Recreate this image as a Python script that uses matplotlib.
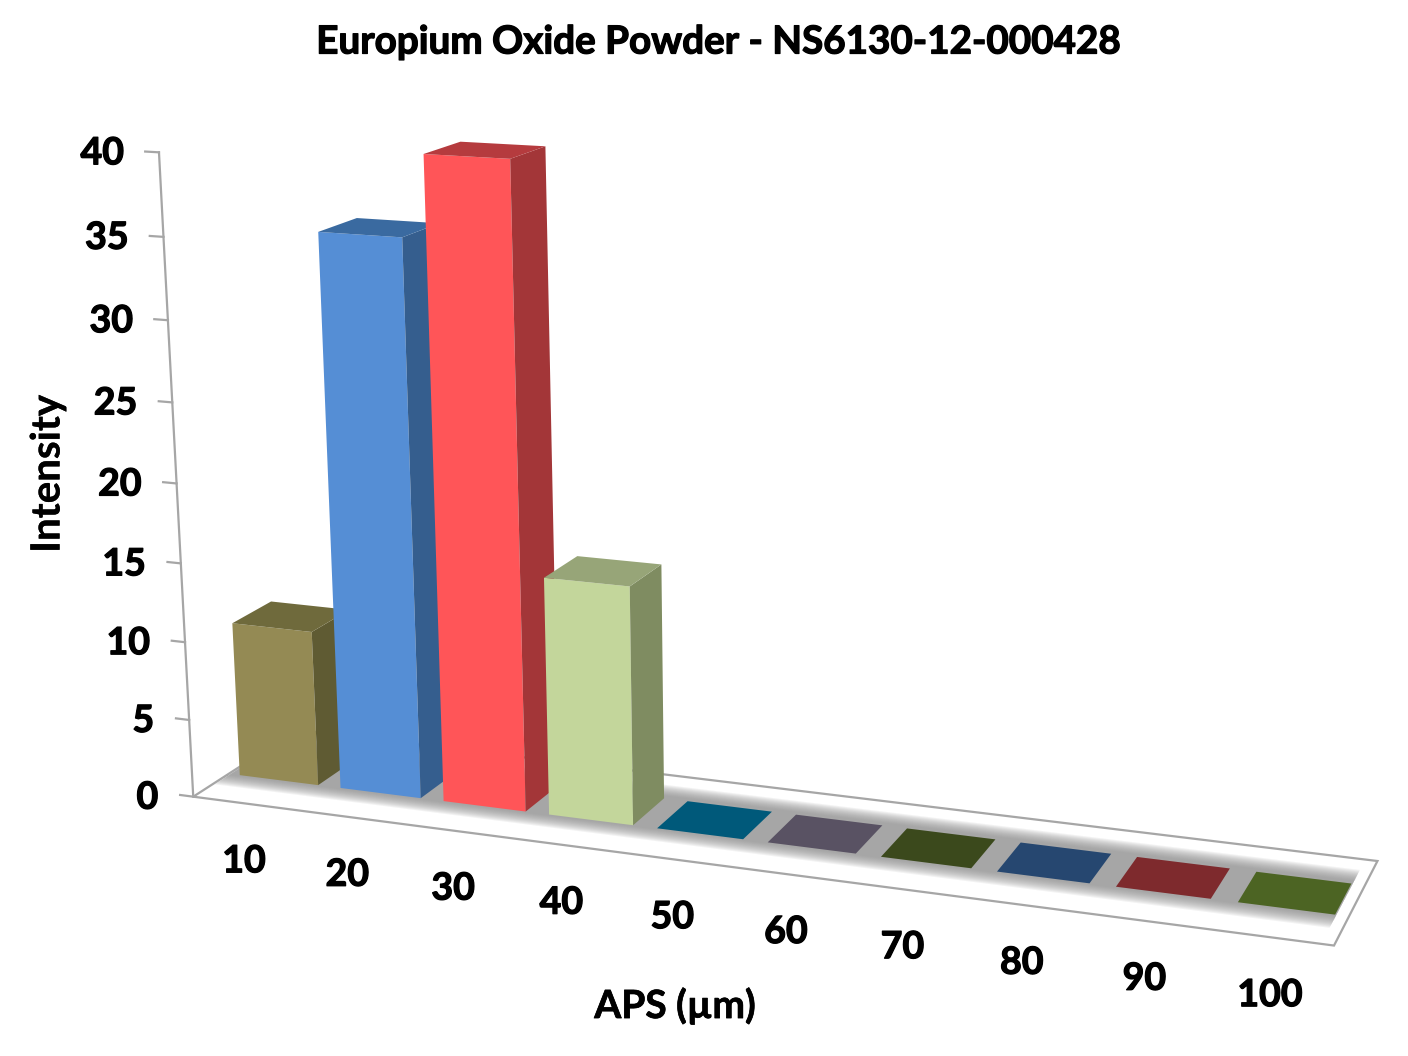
import numpy as np
import matplotlib
matplotlib.use("Agg")
import matplotlib.pyplot as plt
import matplotlib.patheffects as pe

plt.rcParams['font.family'] = ['Lato', 'DejaVu Sans']

categories = ['10', '20', '30', '40', '50', '60', '70', '80', '90', '100']
values = [10, 35, 40, 15, 0, 0, 0, 0, 0, 0]
y_ticks = [0, 5, 10, 15, 20, 25, 30, 35, 40]

front_colors = ['#948A54', '#558ED5', '#FF5558', '#C3D69B', '#00597A',
                '#595263', '#3B491C', '#264770', '#7E2A2D', '#4C6423']
side_colors = ['#5F5B33', '#355E8E', '#A33638', '#7F8C61', '#00597A',
               '#595263', '#3B491C', '#264770', '#7E2A2D', '#4C6423']
top_colors = ['#6F6A3C', '#3A6AA0', '#B53B3E', '#97A578', '#00597A',
              '#595263', '#3B491C', '#264770', '#7E2A2D', '#4C6423']

GAP = 0.11        # space each side of a bar, in category widths
DEPTH = (0.33, 0.70)   # bar front and back on the floor, 0 front, 1 back

# camera: points of the 3d box (category, depth, value) and where they show up
a, b = DEPTH
calib = [
    ((0, 0, 0), (193, 796)), ((10, 0, 0), (1335, 946)), ((10, 1, 0), (1379, 858)),
    ((0, 0, 40), (160, 150)), ((0, 0, 20), (178, 481)),
    ((.11, a, 0), (239, 773)), ((.89, a, 0), (318, 785)), ((.11, a, 10), (234, 625)),
    ((.89, a, 10), (313, 633)), ((.89, b, 10), (335, 610)), ((.11, b, 10), (278, 603)),
    ((1.11, a, 0), (341, 788)), ((1.89, a, 0), (421, 798)),
    ((1.11, a, 35), (318, 233)), ((1.89, a, 35), (402, 237)),
    ((2.11, a, 0), (442, 802)), ((2.89, a, 0), (526, 812)), ((2.11, a, 40), (423, 154)),
    ((2.89, a, 40), (509, 158)), ((2.89, b, 40), (546, 147)), ((2.11, b, 40), (461, 143)),
    ((3.11, a, 0), (549, 815)), ((3.89, a, 0), (633, 826)), ((3.11, a, 15), (544, 578)),
    ((3.89, a, 15), (629, 587)), ((3.89, b, 15), (663, 565)), ((3.89, b, 0), (666, 797)),
    ((4.11, a, 0), (657, 829)), ((4.89, a, 0), (743, 840)),
    ((4.89, b, 0), (772, 810)), ((4.11, b, 0), (691, 801)),
    ((9.11, a, 0), (1236, 903)), ((9.89, a, 0), (1334, 916)),
    ((9.89, b, 0), (1352, 883)), ((9.11, b, 0), (1255, 872)),
]


def fit_camera(points):
    rows = []
    rhs = []
    for (x, y, z), (u, v) in points:
        rows.append([x, y, z, 1, 0, 0, 0, 0, -u * x, -u * y, -u * z])
        rows.append([0, 0, 0, 0, x, y, z, 1, -v * x, -v * y, -v * z])
        rhs += [u, v]
    p = np.linalg.lstsq(np.array(rows, float), np.array(rhs, float), rcond=None)[0]
    return np.append(p, 1).reshape(3, 4)


CAMERA = fit_camera(calib)


def project(x, y, z):
    u, v, w = CAMERA @ np.array([x, y, z, 1.0])
    return u / w, v / w


def face(points, **kw):
    xy = [project(*p) for p in points]
    ax.fill([p[0] for p in xy], [p[1] for p in xy], **kw)


def label(x, y, s, size=27, stroke=0.9, **kw):
    # Lato bold is a bit thin next to the original font, so thicken it slightly
    ax.text(x, y, s, ha=kw.pop('ha', 'center'), va='center', fontsize=size,
            fontweight='bold', color='black',
            path_effects=[pe.withStroke(linewidth=stroke, foreground='black')], **kw)


fig = plt.figure(figsize=(14.08, 10.56), dpi=100)
ax = fig.add_axes([0, 0, 1, 1])
ax.set_xlim(0, 1408)
ax.set_ylim(1056, 0)
ax.axis('off')

n = len(categories)
line_color = '#A6A6A6'

# floor
face([(0, 0, 0), (n, 0, 0), (n, 1, 0), (0, 1, 0)], facecolor='white',
     edgecolor=line_color, linewidth=1.6, zorder=1)

# soft grey shadow on the floor, stacked thin layers
layers = 12
for k in range(layers):
    low = 0.18 + 0.012 * k
    high = 0.87 - 0.012 * k
    face([(0.02, low, 0), (n - 0.1, low, 0), (n - 0.1, high, 0), (0.02, high, 0)],
         facecolor='#8C8C8C', alpha=0.105, linewidth=0, zorder=2)

# value axis
x0, y0 = zip(project(0, 0, 0), project(0, 0, 40))
ax.plot(x0, y0, color=line_color, linewidth=1.6, zorder=3)
for t in y_ticks:
    px, py = zip(project(-0.13, 0, t), project(0, 0, t))
    ax.plot(px, py, color=line_color, linewidth=1.6, zorder=3)
    u, v = project(0, 0, t)
    label(u - 35, v + 1, str(t), ha='right')

# bars, left to right so the nearer ones cover the sides of the previous ones
for i, val in enumerate(values):
    l, r = i + GAP, i + 1 - GAP
    z = 4 + i
    face([(l, a, 0), (r, a, 0), (r, a, val), (l, a, val)],
         facecolor=front_colors[i], linewidth=0, zorder=z)
    face([(r, a, 0), (r, b, 0), (r, b, val), (r, a, val)],
         facecolor=side_colors[i], linewidth=0, zorder=z)
    face([(l, a, val), (r, a, val), (r, b, val), (l, b, val)],
         facecolor=top_colors[i], linewidth=0, zorder=z)

for i, lab in enumerate(categories):
    u, v = project(i + 0.5, 0, 0)
    label(u, v + 58, lab)

label(719, 42, 'Europium Oxide Powder - NS6130-12-000428', size=27.8)
label(675, 1006, 'APS (µm)', size=28, stroke=0.5)
label(48, 474, 'Intensity', size=29, stroke=0.2, rotation=90)

fig.savefig('out.png', dpi=100)
